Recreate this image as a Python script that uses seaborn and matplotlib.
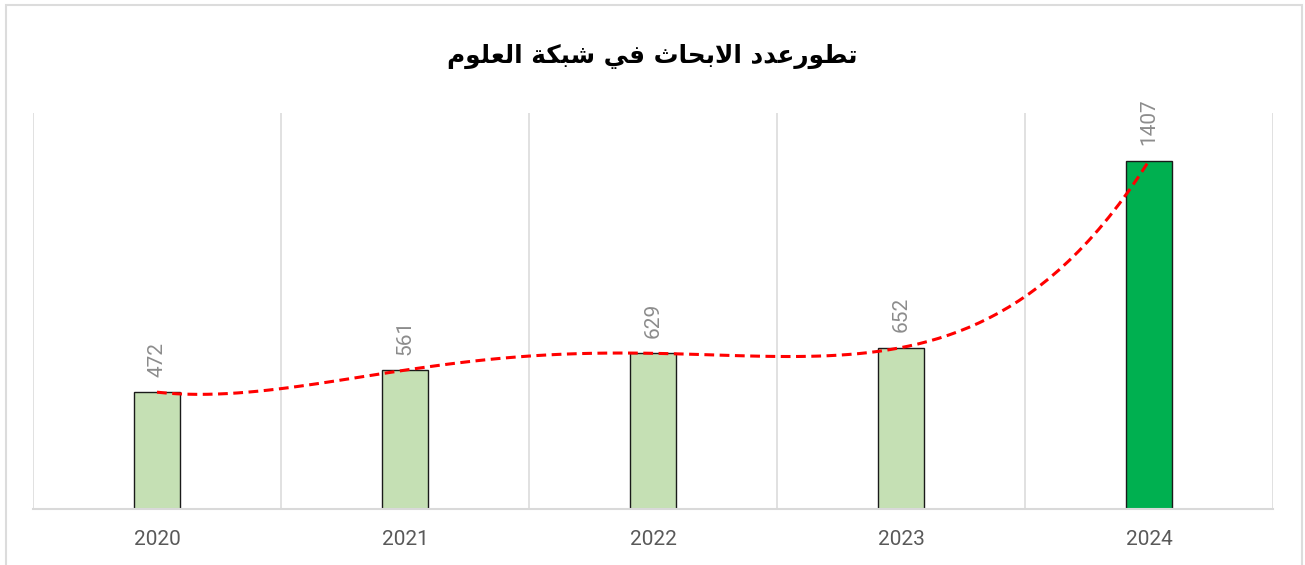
import numpy as np
import pandas as pd
import seaborn as sns
import matplotlib.pyplot as plt
from matplotlib.patches import Rectangle

# data
years = ["2020", "2021", "2022", "2023", "2024"]
counts = [472, 561, 629, 652, 1407]
bar_colors = ["#c5e0b4", "#c5e0b4", "#c5e0b4", "#c5e0b4", "#00b050"]

# "تطورعدد الابحاث في شبكة العلوم" written with presentation forms in visual
# order, since matplotlib does no Arabic shaping
title = ("\uFEE1\uFEEE\uFEE0\uFECC\uFEDF\uFE8D "
         "\uFE94\uFEDC\uFE92\uFEB7 "
         "\uFEF2\uFED3 "
         "\uFE99\uFE8E\uFEA4\uFE91\uFEFB\uFE8D "
         "\uFEA9\uFEAA\uFECB\uFEAD\uFEEE\uFEC4\uFE97")

sns.set_theme(style="white")
plt.rcParams["font.family"] = ["Roboto", "DejaVu Sans"]

df = pd.DataFrame({"year": years, "count": counts, "pos": np.arange(len(years))})

fig = plt.figure(figsize=(13.05, 5.65), dpi=100)
ax = fig.add_axes([33 / 1305, 56 / 565, 1240 / 1305, 396 / 565])

sns.barplot(
    data=df, x="year", y="count", hue="year",
    palette=dict(zip(years, bar_colors)), legend=False, saturation=1,
    width=0.185, edgecolor="#1a1a1a", linewidth=1.0, ax=ax,
)

# polynomial (order 4) trendline over the bar tops
sns.regplot(
    data=df, x="pos", y="count", order=4, ci=None, scatter=False,
    line_kws={"color": "#ff0000", "linewidth": 2.2,
              "linestyle": (0, (3.2, 1.8)), "zorder": 5},
    ax=ax,
)

for i, v in enumerate(counts):
    ax.annotate(str(v), (i, v), xytext=(0, 11), textcoords="offset points",
                rotation=90, ha="center", va="bottom", fontsize=15,
                color="#8c8c8c")

ax.set_xlim(-0.5, len(years) - 0.5)
ax.set_ylim(0, 1600)
ax.set_xlabel("")
ax.set_ylabel("")
ax.set_yticks([])
ax.set_xticks(np.arange(len(years)))
ax.set_xticklabels(years)
ax.set_xticks(np.arange(-0.5, len(years), 1.0), minor=True)
ax.grid(False)
ax.grid(True, which="minor", axis="x", color="#d9d9d9", linewidth=1.1)
ax.set_axisbelow(True)
ax.tick_params(axis="x", which="both", length=0, pad=15, labelsize=15,
               labelcolor="#595959")
for side in ["top", "left", "right"]:
    ax.spines[side].set_visible(False)
ax.spines["bottom"].set_color("#d9d9d9")
ax.spines["bottom"].set_linewidth(1.5)

fig.text(652 / 1305, 1 - 56 / 565, title, ha="center", va="center",
         fontsize=17.8, fontweight="bold", color="#000000",
         family=["DejaVu Sans"])

fig.patches.append(Rectangle((6 / 1305, -0.02), 1296 / 1305, 1.02 - 5 / 565,
                             transform=fig.transFigure, fill=False,
                             edgecolor="#dcdcdc", linewidth=1.5))

fig.savefig("out.png", dpi=100)
